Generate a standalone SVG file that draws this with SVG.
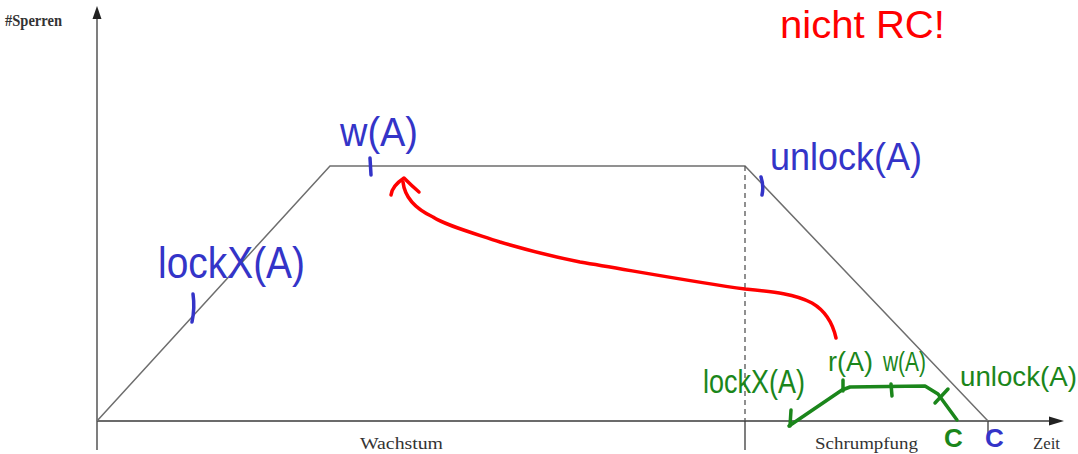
<svg xmlns="http://www.w3.org/2000/svg" width="1078" height="454" viewBox="0 0 1078 454">
<style>
.ax{stroke:#3a3a3a;stroke-width:1.3;fill:none}
.tr{stroke:#6e6e6e;stroke-width:1.5;fill:none}
.lbl{font-family:"Liberation Serif",serif;font-size:16px;fill:#333}
.hw{font-family:"Liberation Sans","DejaVu Sans",sans-serif;}
.blue{fill:#3434c8}
.red{fill:#ff0000}
.green{fill:#1b861b}
.bs{stroke:#3434c8;stroke-width:3.5;fill:none;stroke-linecap:round}
.rs{stroke:#ff0000;stroke-width:3.5;fill:none;stroke-linecap:round;stroke-linejoin:round}
.gs{stroke:#1b861b;stroke-width:3.5;fill:none;stroke-linecap:round;stroke-linejoin:round}
</style>
<rect width="1078" height="454" fill="#fff"/>
<g id="axes">
<line class="ax" x1="97" y1="450" x2="97" y2="16"/>
<polygon points="97,6 92.5,19 101.5,19" fill="#222"/>
<line class="ax" x1="97" y1="421" x2="1050" y2="421"/>
<polygon points="1064,421 1049,416.5 1049,425.5" fill="#222"/>
<line class="ax" x1="745" y1="421" x2="745" y2="450"/>
<line class="ax" x1="988" y1="421" x2="988" y2="437"/>
<text class="lbl" x="5" y="26" font-weight="bold" font-size="13" textLength="57" lengthAdjust="spacingAndGlyphs">#Sperren</text>
<text class="lbl" x="360" y="449" textLength="83" lengthAdjust="spacingAndGlyphs">Wachstum</text>
<text class="lbl" x="815" y="449" textLength="103" lengthAdjust="spacingAndGlyphs">Schrumpfung</text>
<text class="lbl" x="1033" y="449" textLength="27" lengthAdjust="spacingAndGlyphs">Zeit</text>
</g>
<g id="trapezoid">
<polyline class="tr" points="97,421 330,166 745,166 988,421"/>
<line x1="745" y1="166" x2="745" y2="421" stroke="#555" stroke-width="1.3" stroke-dasharray="5,4"/>
</g>
<g id="blue-annotations">
<text class="hw blue" x="158" y="278" font-size="44" textLength="147" lengthAdjust="spacingAndGlyphs">lockX(A)</text>
<text class="hw blue" x="340" y="146" font-size="40" textLength="78" lengthAdjust="spacingAndGlyphs">w(A)</text>
<text class="hw blue" x="770" y="170" font-size="38" textLength="152" lengthAdjust="spacingAndGlyphs">unlock(A)</text>
<text class="hw blue" x="985" y="447" font-size="26" font-weight="bold">C</text>
<path class="bs" d="M193,294 Q195,308 192,322"/>
<path class="bs" d="M370,158 L371,175"/>
<path class="bs" d="M761,177 Q764,186 762,195"/>
</g>
<g id="red-annotation">
<text class="hw red" x="780" y="38" font-size="38" textLength="165" lengthAdjust="spacingAndGlyphs">nicht RC!</text>
</g>
<g id="connectors">
<path class="rs" d="M836,338 C832,320 824,310 812,303 C795,294 775,292 745,289 C700,283 640,272 580,262 C550,256 520,248 500,242 C470,232 445,225 433,217 C418,210 405,200 403,182"/>
<path class="rs" d="M391,195 Q392,186 404,178 Q412,186 419,192"/>
</g>
<g id="green-annotations">
<text class="hw green" x="703" y="393" font-size="34" textLength="102" lengthAdjust="spacingAndGlyphs">lockX(A)</text>
<text class="hw green" x="828" y="371" font-size="28" textLength="45" lengthAdjust="spacingAndGlyphs">r(A)</text>
<text class="hw green" x="883" y="371" font-size="28" textLength="43" lengthAdjust="spacingAndGlyphs">w(A)</text>
<text class="hw green" x="960" y="386" font-size="28" textLength="117" lengthAdjust="spacingAndGlyphs">unlock(A)</text>
<text class="hw green" x="944" y="447" font-size="26" font-weight="bold">C</text>
<path class="gs" d="M789,426 L842,390 L850,387 L925,386 L938,394 L957,420"/>
<path class="gs" d="M791,410 L790,426"/>
<path class="gs" d="M843,380 L843,391"/>
<path class="gs" d="M891,384 L892,396"/>
<path class="gs" d="M948,389 L935,403"/>
</g>
</svg>
